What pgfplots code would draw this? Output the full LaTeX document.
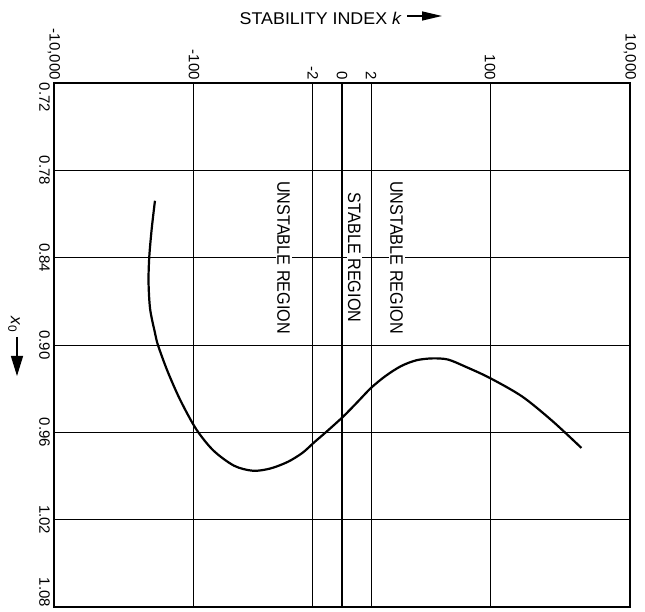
\documentclass[border=0pt]{standalone}
\usepackage{fontspec}
\setmainfont{Liberation Sans}
\usepackage{pgfplots}
\pgfplotsset{compat=1.18}
\usetikzlibrary{calc,arrows.meta}
% x positions are on a symmetric-log scale: linear for |k|<=2, then 4.8 units per decade
% position(k) = sign(k)*(2 + 4.8*log10(|k|/2)) ; -10000 -> -19.755, -100 -> -10.155
\begin{document}
\begin{tikzpicture}
\begin{axis}[
  scale only axis, width=576pt, height=524pt,
  xmin=-19.755, xmax=19.755, ymin=0.72, ymax=1.08, y dir=reverse,
  xtick={-19.755,-10.155,-2,2,10.155,19.755},
  xticklabels={{-10,000},{-100},{-2},{2},{100},{10,000}},
  extra x ticks={0}, extra x tick labels={0},
  extra x tick style={grid=major, major grid style={black, line width=2.6pt}, xticklabel pos=upper},
  xticklabel pos=upper,
  ytick={0.72,0.78,0.84,0.90,0.96,1.02,1.08},
  yticklabels={\makebox[0pt][l]{0.72},0.78,0.84,0.90,0.96,1.02,\makebox[0pt][r]{1.08}},
  grid=major, major grid style={black, line width=1pt},
  major tick length=0pt,
  axis line style={black, line width=1.3pt},
  xticklabel style={rotate=-90, anchor=east, font=\fontsize{15}{18}\selectfont, inner sep=3pt},
  yticklabel style={rotate=-90, anchor=north, font=\fontsize{15}{18}\selectfont, inner sep=4pt},
]
\addplot[smooth, line width=2.2pt, black] coordinates {
(-12.83,0.8009) (-13.05,0.8199) (-13.22,0.8395) (-13.27,0.8569) (-13.16,0.8754)
(-12.83,0.8916) (-12.62,0.9002) (-11.96,0.9182) (-11.09,0.9379) (-9.99,0.958)
(-8.81,0.9726) (-7.39,0.9830) (-6.09,0.9864) (-4.9,0.9848) (-3.7,0.9802)
(-2.7,0.9740) (-1.9,0.9668) (-1.0,0.9590) (0.1,0.9490) (1.05,0.9393)
(2.0,0.9294) (3.0,0.9212) (4.05,0.9145) (5.1,0.9105) (6.2,0.9092)
(7.27,0.9100) (8.47,0.9149) (10.13,0.9226) (12.36,0.9354) (14.44,0.9523)
(16.42,0.9707)
};
\coordinate (R1) at (axis cs:-4.0,0.84);
\coordinate (R2) at (axis cs:0.85,0.84);
\coordinate (R3) at (axis cs:3.75,0.84);
\coordinate (BL) at (axis cs:-19.755,1.08);
\coordinate (TR) at (axis cs:19.755,0.72);
\coordinate (TC) at (axis cs:0,0.72);
\coordinate (LC) at (axis cs:-19.755,0.90);
\end{axis}
\node[rotate=-90, fill=white, inner sep=1.5pt, font=\fontsize{18}{20}\selectfont] at (R1) {\scalebox{0.9}[1]{UNSTABLE REGION}};
\node[rotate=-90, fill=white, inner sep=1pt, font=\fontsize{18}{20}\selectfont] at (R2) {\scalebox{0.9}[1]{STABLE REGION}};
\node[rotate=-90, fill=white, inner sep=1.5pt, font=\fontsize{18}{20}\selectfont] at (R3) {\scalebox{0.9}[1]{UNSTABLE REGION}};
\node[anchor=base east, inner sep=0pt, font=\fontsize{17}{20}\selectfont] at ($(TC)+(60pt,58pt)$) {\scalebox{1.05}[1]{STABILITY INDEX \textit{k}}};
\draw[line width=1.4pt, -{Triangle[length=20pt,width=9pt]}] ($(TC)+(65pt,67pt)$) -- ($(TC)+(100pt,67pt)$);
\node[rotate=-90, inner sep=0pt, font=\fontsize{17}{20}\selectfont] at ($(LC)+(-40pt,20pt)$) {\textit{x}\textsubscript{0}};
\draw[line width=1.4pt, -{Triangle[length=20pt,width=12pt]}] ($(LC)+(-37pt,8pt)$) -- ($(LC)+(-37pt,-31pt)$);
\pgfresetboundingbox
\path ($(BL)+(-54pt,-5pt)$) rectangle ($(TR)+(15pt,83pt)$);
\end{tikzpicture}
\end{document}
